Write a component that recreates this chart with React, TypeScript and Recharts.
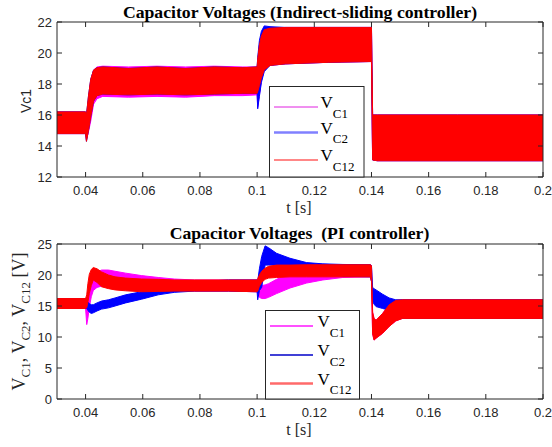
import React from "react";
import { ComposedChart, Area, XAxis, YAxis } from "recharts";

// ---- top panel: indirect-sliding controller (ripple envelope lo/hi per series)
const tTop = [
  0.03, 0.04, 0.0403, 0.041, 0.0418, 0.0428, 0.044, 0.046, 0.055, 0.065, 0.075,
  0.085, 0.095, 0.1, 0.1002, 0.1008, 0.1015, 0.1025, 0.1045, 0.11, 0.125, 0.14,
  0.1404, 0.142, 0.17, 0.2,
];
const c1TopLo = [
  14.8, 14.8, 14.4, 14.9, 15.6, 16.7, 17.05, 17.2, 17.15, 17.2, 17.15, 17.25,
  17.25, 17.3, 16.5, 17.3, 18.2, 18.9, 19.2, 19.3, 19.4, 19.45, 13.1, 13.05,
  13.05, 13.05,
];
const c1TopHi = [
  16.2, 16.2, 15.9, 16.9, 18.2, 18.9, 19.1, 19.15, 19.1, 19.15, 19.1, 19.15,
  19.1, 19.1, 19.4, 20.4, 21.0, 21.5, 21.6, 21.65, 21.65, 21.65, 16.0, 16.0,
  16.0, 16.0,
];
const c2TopLo = [
  14.8, 14.8, 14.3, 15.0, 15.9, 16.9, 17.25, 17.35, 17.3, 17.35, 17.3, 17.35,
  17.4, 17.4, 16.4, 17.2, 18.1, 18.8, 19.2, 19.3, 19.4, 19.45, 13.1, 13.05,
  13.05, 13.05,
];
const c2TopHi = [
  16.2, 16.2, 16.0, 17.2, 18.3, 18.9, 19.05, 19.1, 19.0, 19.1, 19.0, 19.1,
  19.05, 19.1, 19.7, 20.8, 21.4, 21.75, 21.7, 21.65, 21.65, 21.65, 16.0, 16.0,
  16.0, 16.0,
];
const c12TopLo = [
  14.8, 14.8, 14.3, 15.0, 15.9, 16.9, 17.25, 17.35, 17.3, 17.35, 17.3, 17.35,
  17.4, 17.4, 17.5, 17.9, 18.4, 18.9, 19.2, 19.3, 19.4, 19.45, 13.1, 13.05,
  13.05, 13.05,
];
const c12TopHi = [
  16.2, 16.2, 16.0, 17.2, 18.3, 18.9, 19.05, 19.1, 19.0, 19.1, 19.0, 19.1,
  19.05, 19.1, 19.6, 20.5, 21.1, 21.5, 21.6, 21.65, 21.65, 21.65, 16.0, 16.0,
  16.0, 16.0,
];

// ---- bottom panel: PI controller
const tPi = [
  0.03, 0.04, 0.0404, 0.0408, 0.0413, 0.042, 0.0427, 0.044, 0.0456, 0.048,
  0.0503, 0.054, 0.0596, 0.0654, 0.071, 0.078, 0.09, 0.1, 0.1002, 0.1008,
  0.1016, 0.1028, 0.104, 0.1068, 0.1115, 0.1173, 0.123, 0.13, 0.1396, 0.14,
  0.1404, 0.1409, 0.1416, 0.1439, 0.1462, 0.1485, 0.1509, 0.175, 0.2,
];
const c1PiLo = [
  14.6, 14.6, 12.0, 13.0, 14.8, 16.5, 17.5, 18.0, 18.2, 18.4, 18.5, 18.4, 18.2,
  17.9, 17.6, 17.4, 17.4, 17.3, 17.0, 16.4, 16.2, 16.2, 16.4, 17.0, 17.9, 18.7,
  19.2, 19.6, 19.7, 19.0, 10.5, 9.5, 9.8, 10.6, 11.7, 12.6, 13.0, 13.0, 13.0,
];
const c1PiHi = [
  16.2, 16.2, 15.6, 16.0, 17.4, 18.8, 19.8, 20.5, 20.8, 20.8, 20.6, 20.3, 19.9,
  19.6, 19.35, 19.2, 19.2, 19.2, 19.0, 18.6, 18.3, 18.4, 18.6, 19.3, 20.2, 20.9,
  21.3, 21.6, 21.65, 21.5, 14.0, 13.0, 12.7, 13.8, 15.2, 15.9, 16.0, 16.0, 16.0,
];
const c2PiLo = [
  14.6, 14.6, 14.6, 14.3, 14.0, 13.8, 13.9, 14.2, 14.5, 14.7, 15.0, 15.5, 16.1,
  16.8, 17.2, 17.4, 17.4, 17.3, 16.0, 17.5, 18.0, 21.6, 21.6, 21.6, 21.6, 21.5,
  20.5, 19.8, 19.7, 19.0, 15.8, 15.3, 14.9, 14.6, 14.3, 13.5, 13.0, 13.0, 13.0,
];
const c2PiHi = [
  16.2, 16.2, 15.9, 15.6, 15.4, 15.2, 15.2, 15.5, 15.8, 16.0, 16.3, 16.8, 17.3,
  17.7, 18.3, 18.9, 19.2, 19.2, 19.0, 21.0, 23.0, 24.7, 24.4, 23.5, 22.7, 22.0,
  21.8, 21.7, 21.65, 21.5, 18.0, 17.8, 17.6, 16.9, 16.3, 16.0, 16.0, 16.0, 16.0,
];
const c12PiLo = [
  14.6, 14.6, 14.7, 15.6, 17.0, 18.3, 19.2, 18.8, 18.1, 17.8, 17.6, 17.45, 17.3,
  17.35, 17.4, 17.4, 17.4, 17.3, 17.4, 18.2, 18.8, 19.3, 19.5, 19.6, 19.7, 19.7,
  19.7, 19.7, 19.7, 19.0, 10.5, 9.5, 9.8, 10.6, 11.7, 12.6, 13.0, 13.0, 13.0,
];
const c12PiHi = [
  16.2, 16.2, 16.8, 18.6, 20.1, 20.9, 21.2, 21.0, 20.5, 20.0, 19.7, 19.5, 19.35,
  19.3, 19.2, 19.2, 19.2, 19.2, 19.4, 20.0, 20.6, 21.1, 21.4, 21.6, 21.6, 21.65,
  21.65, 21.65, 21.65, 21.5, 14.0, 13.0, 12.7, 13.8, 15.2, 15.9, 16.0, 16.0, 16.0,
];

const xTicks = [0.04, 0.06, 0.08, 0.1, 0.12, 0.14, 0.16, 0.18, 0.2];
const topYTicks = [12, 14, 16, 18, 20, 22];
const piYTicks = [0, 5, 10, 15, 20, 25];

const AX = "#262626";
const SANS = "'Liberation Sans', Arial, sans-serif";
const SERIF = "'Liberation Serif', 'Times New Roman', serif";

function rows(t: number[], s: number[][]) {
  return t.map((x, i) => ({
    t: x,
    c1: [s[0][i], s[1][i]],
    c2: [s[2][i], s[3][i]],
    c12: [s[4][i], s[5][i]],
  }));
}

const topData = rows(tTop, [c1TopLo, c1TopHi, c2TopLo, c2TopHi, c12TopLo, c12TopHi]);
const piData = rows(tPi, [c1PiLo, c1PiHi, c2PiLo, c2PiHi, c12PiLo, c12PiHi]);

const series = [
  { key: "c1", color: "#ff00ff" },
  { key: "c2", color: "#0000ff" },
  { key: "c12", color: "#ff0000" },
];

function Panel({ data, yDomain, yTicks, top }: any) {
  const blank = () => "";
  return (
    <div style={{ position: "absolute", left: 0, top, width: 552, height: 215 }}>
      <ComposedChart
        width={552}
        height={215}
        data={data}
        margin={{ top: 21, right: 8, bottom: 0, left: 0 }}
      >
        <XAxis
          dataKey="t"
          type="number"
          domain={[0.03, 0.2]}
          ticks={xTicks}
          interval={0}
          allowDataOverflow
          height={38}
          tickSize={-5}
          tickMargin={14}
          stroke={AX}
          tick={{ fill: AX, fontSize: 13, fontFamily: SANS }}
          tickFormatter={(v: number) => String(v)}
        />
        <XAxis
          xAxisId="top"
          orientation="top"
          dataKey="t"
          type="number"
          domain={[0.03, 0.2]}
          ticks={xTicks}
          interval={0}
          allowDataOverflow
          height={1}
          tickSize={-5}
          stroke={AX}
          tickFormatter={blank}
        />
        <YAxis
          type="number"
          domain={yDomain}
          ticks={yTicks}
          interval={0}
          allowDataOverflow
          width={57}
          tickSize={-5}
          tickMargin={10}
          stroke={AX}
          tick={{ fill: AX, fontSize: 13, fontFamily: SANS }}
        />
        <YAxis
          yAxisId="r"
          orientation="right"
          type="number"
          domain={yDomain}
          ticks={yTicks}
          interval={0}
          allowDataOverflow
          width={1}
          tickSize={-5}
          stroke={AX}
          tickFormatter={blank}
        />
        {series.map((s) => (
          <Area
            key={s.key}
            type="linear"
            dataKey={s.key}
            stroke={s.color}
            strokeWidth={1}
            fill={s.color}
            fillOpacity={1}
            dot={false}
            activeDot={false}
            isAnimationActive={false}
          />
        ))}
      </ComposedChart>
    </div>
  );
}

function LegendEntry({ x, y, lx1, lx2, color, width, sub }: any) {
  return (
    <g>
      <line x1={lx1} x2={lx2} y1={y} y2={y} stroke={color} strokeWidth={width} />
      <text x={x} y={y + 1} fontFamily={SERIF} fontSize={17} fill="#000">
        V
        <tspan dy={9.5} fontSize={13}>
          {sub}
        </tspan>
      </text>
    </g>
  );
}

export default function App() {
  return (
    <div
      style={{
        position: "absolute",
        left: 0,
        top: 0,
        width: 552,
        height: 447,
        background: "#fff",
      }}
    >
      <Panel data={topData} yDomain={[12, 22]} yTicks={topYTicks} top={0} />
      <Panel data={piData} yDomain={[0, 25]} yTicks={piYTicks} top={222} />
      <svg
        width={552}
        height={447}
        style={{ position: "absolute", left: 0, top: 0, pointerEvents: "none" }}
      >
        <text
          x={300}
          y={17.5}
          textAnchor="middle"
          fontFamily={SERIF}
          fontWeight="bold"
          fontSize={17.7}
          fill="#000"
        >
          Capacitor Voltages (Indirect-sliding controller)
        </text>
        <text
          x={299.5}
          y={239.3}
          textAnchor="middle"
          fontFamily={SERIF}
          fontWeight="bold"
          fontSize={17.7}
          fill="#000"
          style={{ whiteSpace: "pre" }}
        >
          {"Capacitor Voltages  (PI controller)"}
        </text>
        <text x={299} y={213} textAnchor="middle" fontFamily={SERIF} fontSize={16} fill={AX}>
          t [s]
        </text>
        <text x={299} y={435} textAnchor="middle" fontFamily={SERIF} fontSize={16} fill={AX}>
          t [s]
        </text>
        <text
          transform="translate(31,101) rotate(-90)"
          textAnchor="middle"
          fontFamily={SANS}
          fontSize={14}
          fill={AX}
        >
          Vc1
        </text>
        <text
          transform="translate(25,321.5) rotate(-90)"
          textAnchor="middle"
          fontFamily={SERIF}
          fontSize={18}
          fill={AX}
        >
          V
          <tspan dy={4.5} fontSize={13}>C1</tspan>
          <tspan dy={-4.5}>, V</tspan>
          <tspan dy={4.5} fontSize={13}>C2</tspan>
          <tspan dy={-4.5}>, V</tspan>
          <tspan dy={4.5} fontSize={13}>C12</tspan>
          <tspan dy={-4.5}> [V]</tspan>
        </text>

        {/* top legend */}
        <rect x={269.5} y={86.5} width={94.5} height={90.5} fill="#fff" stroke={AX} strokeWidth={1} />
        <LegendEntry x={320.5} y={107} lx1={274} lx2={318} color="#e020e0" width={1} sub="C1" />
        <LegendEntry x={320.5} y={132.5} lx1={274} lx2={318} color="#8080ff" width={2.5} sub="C2" />
        <LegendEntry x={320.5} y={160} lx1={274} lx2={318} color="#ff1010" width={1.2} sub="C12" />

        {/* bottom legend */}
        <rect x={265.5} y={310.5} width={94} height={88.5} fill="#fff" stroke={AX} strokeWidth={1} />
        <LegendEntry x={317.5} y={326} lx1={270} lx2={313} color="#ff50ff" width={2.2} sub="C1" />
        <LegendEntry x={317.5} y={355} lx1={270} lx2={313} color="#0000c8" width={1.3} sub="C2" />
        <LegendEntry x={317.5} y={383.5} lx1={270} lx2={313} color="#ff6a6a" width={2.5} sub="C12" />
      </svg>
    </div>
  );
}
